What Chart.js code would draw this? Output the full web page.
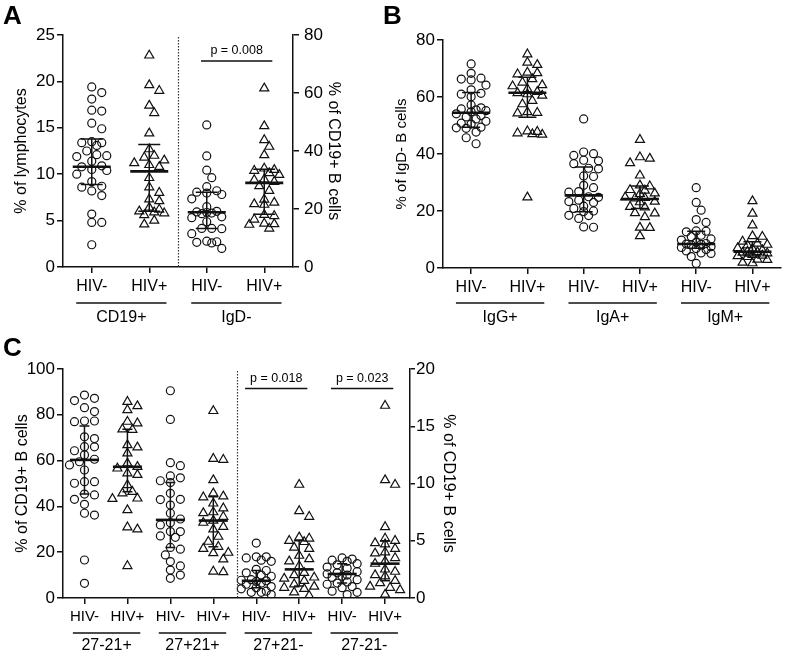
<!DOCTYPE html>
<html>
<head>
<meta charset="utf-8">
<script src="https://cdn.jsdelivr.net/npm/chart.js@4.4.0/dist/chart.umd.min.js"></script>
<style>
  body { margin: 0; background: #fff; width: 787px; height: 654px; position: relative; overflow: hidden; }
  canvas { position: absolute; }
</style>
</head>
<body>
<canvas id="panelA" width="345" height="330" style="left:0;top:0"></canvas>
<canvas id="panelB" width="412" height="330" style="left:375px;top:0"></canvas>
<canvas id="panelC" width="470" height="324" style="left:0;top:330px"></canvas>
<script>
// ---------- panel A ----------
const catsA = ['HIV-', 'HIV+', 'HIV-', 'HIV+'];
const groupsA = ['CD19+', 'IgD-'];
const cd19Neg = [19.4, 18.8, 18.1, 16.9, 16.8, 15.5, 14.9, 13.5, 13.4, 13.4, 13.1, 12.5, 12.1, 12.0, 11.9, 11.4, 10.9, 10.8, 10.5, 10.4, 10.0, 9.2, 8.7, 8.6, 8.2, 7.7, 5.7, 4.8, 4.8, 2.4];
const cd19Pos = [22.8, 19.6, 19.0, 17.4, 16.6, 14.4, 12.7, 12.0, 11.8, 11.5, 11.2, 11.0, 10.8, 9.6, 8.6, 8.0, 7.3, 7.1, 6.4, 6.2, 6.0, 5.9, 5.8, 5.6, 5.0, 4.6];
const igdNeg = [49.0, 38.3, 33.4, 30.8, 27.7, 26.3, 25.8, 25.5, 25.0, 23.5, 20.8, 19.2, 19.0, 18.8, 18.6, 18.4, 17.3, 17.0, 15.6, 13.3, 13.3, 13.2, 11.5, 8.9, 8.7, 8.5, 8.3, 6.4];
const igdPos = [61.6, 48.6, 43.8, 41.5, 38.6, 34.0, 33.5, 33.2, 32.4, 31.8, 30.2, 30.0, 29.4, 27.9, 26.3, 23.3, 22.2, 21.7, 21.5, 18.0, 17.6, 16.4, 15.0, 14.8, 14.6, 13.3];
const medianA = [10.8, 10.3, 18.9, 29.0];
const q1A = [8.9, 6.0, 13.3, 18.2];
const q3A = [13.8, 13.2, 25.8, 33.7];
const yTicksA = [0, 5, 10, 15, 20, 25];
const y2TicksA = [0, 20, 40, 60, 80];
const pLabelsA = ['p = 0.008'];
const pPairsA = [2];
const pLevelsA = [71];

// ---------- panel B ----------
const catsB = ['HIV-', 'HIV+', 'HIV-', 'HIV+', 'HIV-', 'HIV+'];
const groupsB = ['IgG+', 'IgA+', 'IgM+'];
const iggNeg = [71.6, 68.3, 66.6, 66.3, 66.0, 64.2, 62.5, 61.3, 61.0, 60.1, 57.2, 56.2, 55.8, 55.5, 55.2, 54.8, 54.1, 53.5, 53.0, 52.3, 51.5, 50.8, 50.5, 49.4, 49.2, 49.0, 47.7, 45.7, 43.6];
const iggPos = [75.0, 72.1, 71.3, 68.6, 68.4, 68.0, 66.3, 65.1, 64.2, 63.8, 62.8, 61.8, 61.4, 61.0, 60.5, 58.7, 57.5, 54.7, 54.5, 54.3, 48.0, 47.8, 47.3, 47.0, 46.8, 24.8];
const igaNeg = [52.3, 40.7, 40.1, 39.5, 37.8, 37.6, 36.6, 35.0, 34.8, 32.3, 32.1, 29.0, 28.2, 26.8, 26.6, 25.0, 24.8, 23.8, 23.3, 23.0, 21.7, 20.9, 20.0, 19.8, 18.5, 18.4, 17.4, 14.4, 14.3];
const igaPos = [45.0, 38.9, 38.4, 36.8, 32.5, 29.0, 28.7, 27.4, 27.2, 26.2, 26.0, 24.8, 24.6, 24.5, 23.3, 23.1, 21.5, 21.3, 19.3, 19.2, 17.9, 14.2, 14.1, 11.2];
const igmNeg = [28.2, 23.0, 20.3, 17.0, 16.0, 13.0, 12.9, 12.7, 11.5, 11.0, 10.2, 9.8, 9.0, 8.6, 8.4, 8.3, 8.1, 7.5, 7.2, 6.8, 6.5, 6.0, 5.3, 5.1, 4.0, 1.6];
const igmPos = [23.5, 19.1, 15.0, 11.2, 11.0, 9.3, 8.6, 8.2, 8.0, 7.0, 6.8, 6.3, 5.8, 5.6, 5.4, 5.2, 4.6, 4.4, 4.2, 3.9, 3.0, 2.9, 1.9, 1.7];
const medianB = [54.5, 61.5, 25.5, 24.2, 8.4, 5.7];
const q1B = [49.4, 52.9, 19.7, 20.9, 6.9, 4.2];
const q3B = [61.6, 66.9, 35.4, 28.8, 12.9, 9.2];
const yTicksB = [0, 20, 40, 60, 80];

// ---------- panel C ----------
const catsC = ['HIV-', 'HIV+', 'HIV-', 'HIV+', 'HIV-', 'HIV+', 'HIV-', 'HIV+'];
const groupsC = ['27-21+', '27+21+', '27+21-', '27-21-'];
const m27n21pNeg = [88.6, 87.2, 86.2, 83.1, 81.4, 77.3, 77.3, 77.0, 70.4, 69.6, 66.1, 66.0, 64.3, 62.5, 60.6, 59.5, 58.1, 55.9, 50.8, 50.8, 50.1, 45.4, 45.0, 43.1, 40.9, 37.0, 36.2, 16.6, 6.4];
const m27n21pPos = [85.7, 83.8, 82.1, 77.0, 76.3, 73.7, 73.5, 66.8, 65.8, 63.2, 58.8, 57.3, 56.6, 54.5, 53.8, 49.3, 46.4, 45.7, 43.5, 43.3, 38.4, 30.9, 30.0, 14.0];
const p27p21pNeg = [90.5, 78.0, 59.1, 57.8, 53.3, 52.5, 51.2, 50.4, 45.7, 43.1, 43.0, 40.6, 37.0, 34.5, 32.9, 31.9, 29.0, 29.0, 27.1, 26.5, 22.1, 21.3, 18.8, 15.9, 14.0, 12.2, 10.0, 8.6];
const p27p21pPos = [81.7, 60.8, 60.4, 51.5, 45.7, 44.4, 44.0, 41.3, 39.2, 37.5, 37.1, 35.5, 33.8, 32.9, 31.1, 30.0, 26.8, 24.6, 22.4, 21.5, 19.8, 19.6, 16.9, 11.6, 11.3];
const p27n21nNeg = [4.8, 3.6, 3.6, 3.5, 3.3, 3.2, 2.5, 2.4, 2.2, 2.0, 1.9, 1.6, 1.55, 1.5, 1.45, 1.3, 1.2, 1.0, 0.9, 0.8, 0.6, 0.5, 0.5, 0.3];
const p27n21nPos = [9.9, 7.6, 7.1, 5.3, 5.2, 5.0, 4.9, 4.4, 4.3, 3.7, 3.4, 3.2, 2.8, 2.2, 2.0, 1.8, 1.7, 1.5, 1.2, 1.0, 0.9, 0.8, 0.5, 0.2];
const m27m21nNeg = [3.5, 3.4, 3.3, 3.2, 3.0, 2.9, 2.7, 2.6, 2.3, 2.2, 2.1, 2.0, 1.9, 1.8, 1.6, 1.4, 1.3, 1.2, 1.0, 0.9, 0.6, 0.5, 0.3];
const m27m21nPos = [16.8, 10.3, 9.9, 6.2, 5.2, 5.0, 4.8, 4.7, 4.3, 4.0, 3.9, 3.5, 3.2, 3.0, 2.5, 2.3, 2.0, 1.9, 1.5, 1.3, 1.0, 0.9, 0.7, 0.3];
const medianC = [60.3, 57.3, 34.1, 33.8, 1.5, 2.5, 2.1, 3.0];
const q1C = [45.4, 46.4, 22.1, 22.4, 0.9, 1.05, 1.3, 1.5];
const q3C = [75.1, 73.7, 50.4, 44.2, 2.4, 5.0, 3.0, 5.0];
const yTicksC = [0, 20, 40, 60, 80, 100];
const y2TicksC = [0, 5, 10, 15, 20];
const pLabelsC = ['p = 0.018', 'p = 0.023'];
const pPairsC = [4, 6];
const pLevelsC = [18.3, 18.3];

const FONT = "'Liberation Sans', Arial, Helvetica, sans-serif";
Chart.defaults.font.family = FONT;
Chart.defaults.color = '#000';

// spread points of one column sideways so they don't pile up (beeswarm)
function swarm(values, center, pxX, pxY, step, minD, maxK) {
  const placed = [];
  const out = new Array(values.length);
  const order = values.map((v, i) => i).sort((a, b) => values[b] - values[a]);
  order.forEach(i => {
    const yp = values[i] * pxY;
    let best = null, bestGap = -1;
    for (let k = 0; k <= maxK * 2; k++) {
      const off = (k % 2 ? 1 : -1) * Math.ceil(k / 2) * step;
      const gap = placed.reduce((m, p) => Math.min(m, Math.hypot(p.x - off, p.y - yp)), Infinity);
      if (gap >= minD) { best = off; break; }
      if (gap > bestGap + 0.5) { bestGap = gap; best = off; }
    }
    placed.push({ x: best, y: yp });
    out[i] = { x: center + best / pxX, y: values[i] };
  });
  return out;
}

const summaryPlugin = {
  id: 'summary',
  afterDatasetsDraw(chart, args, o) {
    const { ctx } = chart;
    const xs = chart.scales.x;
    ctx.save();
    ctx.strokeStyle = '#111';
    o.median.forEach((m, i) => {
      const ys = chart.scales[o.axisOf[i]];
      const cx = xs.getPixelForValue(i);
      const a = ys.getPixelForValue(o.q1[i]);
      const b = ys.getPixelForValue(o.q3[i]);
      const ym = ys.getPixelForValue(m);
      ctx.lineWidth = 1.5;
      ctx.beginPath();
      ctx.moveTo(cx, a); ctx.lineTo(cx, b);
      ctx.moveTo(cx - o.capW, a); ctx.lineTo(cx + o.capW, a);
      ctx.moveTo(cx - o.capW, b); ctx.lineTo(cx + o.capW, b);
      ctx.stroke();
      ctx.lineWidth = 2.6;
      ctx.beginPath();
      ctx.moveTo(cx - o.medW, ym); ctx.lineTo(cx + o.medW, ym);
      ctx.stroke();
    });
    ctx.restore();
  },
  afterDraw(chart, args, o) {
    const { ctx, chartArea: ca } = chart;
    const xs = chart.scales.x;
    ctx.save();
    if (o.divider != null) {
      const dx = Math.round(xs.getPixelForValue(o.divider)) + 0.5;
      ctx.setLineDash([1.5, 1.5]);
      ctx.lineWidth = 1.2;
      ctx.strokeStyle = '#333';
      ctx.beginPath();
      ctx.moveTo(dx, ca.top + 2); ctx.lineTo(dx, ca.bottom);
      ctx.stroke();
      ctx.setLineDash([]);
    }
    ctx.strokeStyle = '#111';
    ctx.fillStyle = '#000';
    ctx.lineWidth = 1.5;
    ctx.textAlign = 'center';
    ctx.textBaseline = 'top';
    ctx.font = o.groupFont + 'px ' + FONT;
    const ly = ca.bottom + o.groupGap;
    o.groups.forEach((g, gi) => {
      const x0 = xs.getPixelForValue(gi * 2 - 0.27);
      const x1 = xs.getPixelForValue(gi * 2 + 1.3);
      ctx.beginPath(); ctx.moveTo(x0, ly); ctx.lineTo(x1, ly); ctx.stroke();
      ctx.fillText(g, (x0 + x1) / 2, ly + o.labelGap);
    });
    ctx.font = '12.5px ' + FONT;
    ctx.textBaseline = 'bottom';
    o.pLabels.forEach((t, i) => {
      const ys = chart.scales.y2;
      const py = ys.getPixelForValue(o.pLevels[i]);
      const x0 = xs.getPixelForValue(o.pPairs[i] - o.pLeft);
      const x1 = xs.getPixelForValue(o.pPairs[i] + 1 + o.pRight);
      ctx.beginPath(); ctx.moveTo(x0, py); ctx.lineTo(x1, py); ctx.stroke();
      ctx.fillText(t, (x0 + x1) / 2, py - 4);
    });
    ctx.font = 'bold 26px ' + FONT;
    ctx.textAlign = 'left';
    ctx.textBaseline = 'top';
    ctx.fillText(o.letter, o.letterX, o.letterY);
    ctx.restore();
  }
};

function axisStyle(tl) {
  return {
    grid: { drawOnChartArea: false, drawTicks: true, tickLength: tl, color: '#111', lineWidth: 1.5 },
    border: { display: true, color: '#111', width: 1.5 }
  };
}

function buildPanel(id, p) {
  const cv = document.getElementById(id);
  const W = cv.width, H = cv.height;
  const a = p.area;
  const pxX = (a.right - a.left) / (p.xMax - p.xMin);
  const datasets = p.series.map((vals, i) => {
    const axis = p.axisOf[i];
    const r = p.yAxes[axis];
    const pxY = (a.bottom - a.top) / (r.max - r.min);
    const tri = i % 2 === 1;
    return {
      data: swarm(vals, i, pxX, pxY, p.step, p.minD, p.maxK),
      yAxisID: axis,
      pointStyle: tri ? 'triangle' : 'circle',
      pointRadius: tri ? 5.2 : 4,
      pointBackgroundColor: 'rgba(255,255,255,0)',
      pointBorderColor: '#111',
      pointBorderWidth: 1.2,
      showLine: false
    };
  });
  const scales = {
    x: Object.assign({
      type: 'linear', min: p.xMin, max: p.xMax,
      afterBuildTicks: s => { s.ticks = p.cats.map((c, i) => ({ value: i })); },
      afterFit: s => { s.height = H - a.bottom; },
      ticks: { callback: (v, i) => p.cats[i], autoSkip: false, maxRotation: 0, padding: 4, font: { size: p.xFont } }
    }, axisStyle(6))
  };
  Object.keys(p.yAxes).forEach(key => {
    const r = p.yAxes[key];
    const right = key === 'y2';
    scales[key] = Object.assign({
      type: 'linear', position: right ? 'right' : 'left', min: r.min, max: r.max,
      afterBuildTicks: s => { s.ticks = r.ticks.map(v => ({ value: v })); },
      afterFit: s => { s.width = right ? W - a.right : a.left; },
      ticks: { padding: r.pad, font: { size: 17 } },
      title: { display: true, text: r.title, font: { size: r.titleSize }, padding: { top: r.titlePad, bottom: 0 } }
    }, axisStyle(r.tl));
  });
  new Chart(cv, {
    type: 'scatter',
    data: { datasets },
    options: {
      responsive: false,
      animation: false,
      layout: { padding: { top: a.top, left: 0, bottom: 0, right: p.yAxes.y2 ? 0 : W - a.right } },
      plugins: {
        legend: { display: false },
        tooltip: { enabled: false },
        summary: Object.assign({ axisOf: p.axisOf }, p.summary)
      },
      scales
    },
    plugins: [summaryPlugin]
  });
}

buildPanel('panelA', {
  area: { left: 63, right: 293, top: 35, bottom: 267 },
  xMin: -0.5, xMax: 3.5, cats: catsA, xFont: 16,
  series: [cd19Neg, cd19Pos, igdNeg, igdPos],
  axisOf: ['y', 'y', 'y2', 'y2'],
  step: 5, minD: 8, maxK: 3,
  yAxes: {
    y: { min: 0, max: 25, ticks: yTicksA, pad: 2, tl: 6, title: '% of lymphocytes', titleSize: 16, titlePad: 12 },
    y2: { min: 0, max: 80, ticks: y2TicksA, pad: 5, tl: 6, title: '% of CD19+ B cells', titleSize: 16, titlePad: 2 }
  },
  summary: {
    median: medianA, q1: q1A, q3: q3A, capW: 11, medW: 19,
    divider: 1.5, groups: groupsA, groupFont: 16, groupGap: 36, labelGap: 7,
    pLabels: pLabelsA, pPairs: pPairsA, pLevels: pLevelsA, pLeft: 0.1, pRight: 0.14,
    letter: 'A', letterX: 3, letterY: 4
  }
});

buildPanel('panelB', {
  area: { left: 68, right: 410, top: 40, bottom: 268 },
  xMin: -0.5, xMax: 5.5, cats: catsB, xFont: 16,
  series: [iggNeg, iggPos, igaNeg, igaPos, igmNeg, igmPos],
  axisOf: ['y', 'y', 'y', 'y', 'y', 'y'],
  step: 5, minD: 8, maxK: 3,
  yAxes: {
    y: { min: 0, max: 80, ticks: yTicksB, pad: 2, tl: 6, title: '% of IgD- B cells', titleSize: 15, titlePad: 18 }
  },
  summary: {
    median: medianB, q1: q1B, q3: q3B, capW: 9, medW: 19,
    divider: null, groups: groupsB, groupFont: 16, groupGap: 35, labelGap: 7,
    pLabels: [], pPairs: [], pLevels: [], pLeft: 0, pRight: 0,
    letter: 'B', letterX: 8, letterY: 4
  }
});

buildPanel('panelC', {
  area: { left: 63, right: 410, top: 39, bottom: 268 },
  xMin: -0.5, xMax: 7.58, cats: catsC, xFont: 15,
  series: [m27n21pNeg, m27n21pPos, p27p21pNeg, p27p21pPos, p27n21nNeg, p27n21nPos, m27m21nNeg, m27m21nPos],
  axisOf: ['y', 'y', 'y', 'y', 'y2', 'y2', 'y2', 'y2'],
  step: 5, minD: 8, maxK: 3,
  yAxes: {
    y: { min: 0, max: 100, ticks: yTicksC, pad: 2, tl: 6, title: '% of CD19+ B cells', titleSize: 16, titlePad: 13 },
    y2: { min: 0, max: 20, ticks: y2TicksC, pad: 1, tl: 5, title: '% of CD19+ B cells', titleSize: 16, titlePad: 12 }
  },
  summary: {
    median: medianC, q1: q1C, q3: q3C, capW: 5, medW: 14.5,
    divider: 3.55, groups: groupsC, groupFont: 16, groupGap: 35, labelGap: 5,
    pLabels: pLabelsC, pPairs: pPairsC, pLevels: pLevelsC, pLeft: 0.26, pRight: 0.19,
    letter: 'C', letterX: 3, letterY: 6
  }
});
</script>
</body>
</html>
